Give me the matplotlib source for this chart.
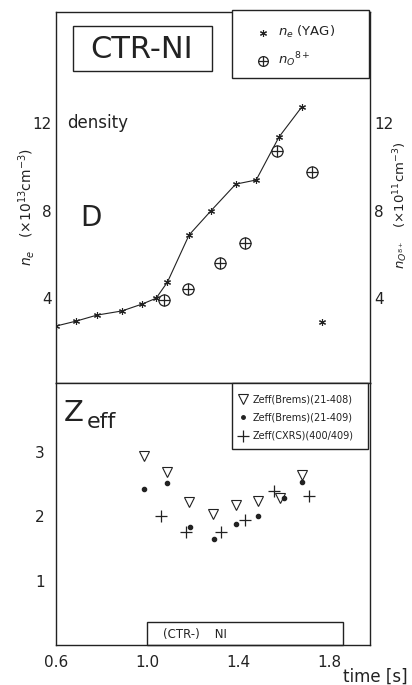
import numpy             as np
import matplotlib
matplotlib.use('Agg')
import matplotlib.pyplot as plt
from matplotlib.patches import Rectangle

W_PX, H_PX = 412, 685
DPI        = 100
INK        = '#222222'

############################
# Data
############################

# n_e (YAG), connected by the curve
neTime     = [0.60, 0.69, 0.78, 0.89, 0.98, 1.04, 1.09, 1.185, 1.28, 1.39, 1.48, 1.58, 1.68]
neValue    = [2.73, 2.96, 3.23, 3.42, 3.74, 4.00, 4.74, 6.89, 7.98, 9.21, 9.40, 11.36, 12.73]
# lone n_e point, not on the curve
neLoneTime  = [1.77]
neLoneValue = [2.91]

# n_O8+
oTime      = [1.075, 1.18, 1.32, 1.43, 1.57, 1.725]
oValue     = [3.92, 4.42, 5.61, 6.52, 10.72, 9.76]

# Zeff(Brems)(21-408)
zb8Time    = [0.987, 1.09, 1.185, 1.29, 1.39, 1.49, 1.585, 1.68]
zb8Value   = [2.93, 2.68, 2.22, 2.03, 2.17, 2.23, 2.28, 2.64]

# Zeff(Brems)(21-409)
zb9Time    = [0.987, 1.09, 1.19, 1.295, 1.39, 1.49, 1.60, 1.68]
zb9Value   = [2.42, 2.51, 1.83, 1.64, 1.88, 2.00, 2.28, 2.53]

# Zeff(CXRS)(400/409)
zcxTime    = [1.06, 1.17, 1.325, 1.43, 1.56, 1.71]
zcxValue   = [2.00, 1.75, 1.75, 1.94, 2.40, 2.32]

xTicks      = [0.6, 1.0, 1.4, 1.8]
xTickLabels = ['0.6', '1.0', '1.4', '1.8']
topTicks    = [4, 8, 12]
botTicks    = [1, 2, 3]

# helpers to place things in pixel units of the reference
def fx(px):
  return px / W_PX

def fy(py):
  return 1 - py / H_PX

plt.rcParams['font.family'] = ['DejaVu Sans']
plt.rcParams['mathtext.fontset'] = 'dejavusans'

fig = plt.figure(figsize = (W_PX / DPI, H_PX / DPI), dpi = DPI)

LEFT, RIGHT = 56, 370
axTop = fig.add_axes([fx(LEFT), fy(383), fx(RIGHT) - fx(LEFT), fy(12) - fy(383)])
axBot = fig.add_axes([fx(LEFT), fy(645), fx(RIGHT) - fx(LEFT), fy(383) - fy(645)])

XMIN = 0.6
XMAX = 0.6 + (RIGHT - LEFT) * 0.4 / 91

for ax in (axTop, axBot):
  ax.set_xlim(XMIN, XMAX)
  for s in ax.spines.values():
    s.set_linewidth(1.0)
    s.set_color(INK)
  ax.tick_params(length = 0, labelsize = 11, colors = INK)

############################
# Top panel: density
############################

axTop.set_ylim(0.13, 17.07)
axTop.plot(neTime, neValue, '-', color = INK, lw = 0.8,
           marker = (6, 2, 0), ms = 5, mew = 0.8)
axTop.plot(neLoneTime, neLoneValue, ls = 'none', color = INK,
           marker = (6, 2, 0), ms = 5, mew = 0.8)
# circled plus: open circle with a plus inside
axTop.plot(oTime, oValue, ls = 'none', marker = 'o', ms = 8, mfc = 'white',
           mec = INK, mew = 0.9)
axTop.plot(oTime, oValue, ls = 'none', marker = '+', ms = 8, mew = 0.9, color = INK)

axTop.set_xticks([])
axTop.set_yticks(topTicks)
axTop.set_yticklabels([str(t) for t in topTicks])
axTop.tick_params(axis = 'y', labelright = True, pad = 3)

fig.text(fx(27), fy(207), r'$n_e$   ($\times 10^{13}$cm$^{-3}$)', rotation = 90,
         ha = 'center', va = 'center', fontsize = 10, color = INK)
fig.text(fx(401), fy(205), r'$n_{O^{8+}}$   ($\times 10^{11}$cm$^{-3}$)', rotation = 90,
         ha = 'center', va = 'center', fontsize = 9.5, color = INK)

fig.text(fx(67), fy(123), 'density', ha = 'left', va = 'center', fontsize = 12, color = INK)
fig.text(fx(80), fy(218), 'D', ha = 'left', va = 'center', fontsize = 20, color = INK)

# CTR-NI box
fig.patches.append(Rectangle((fx(73), fy(71)), fx(212) - fx(73), fy(26) - fy(71),
                             transform = fig.transFigure, fill = False, lw = 1.0,
                             edgecolor = INK))
fig.text(fx(142), fy(49), 'CTR-NI', ha = 'center', va = 'center', fontsize = 22, color = INK)

# legend box, top panel
fig.patches.append(Rectangle((fx(232), fy(78)), fx(369) - fx(232), fy(10) - fy(78),
                             transform = fig.transFigure, facecolor = 'white', lw = 1.0,
                             edgecolor = INK, zorder = 3))
fig.lines.append(plt.Line2D([fx(263)], [fy(33)], transform = fig.transFigure, ls = 'none',
                            marker = (6, 2, 0), ms = 5, mew = 0.8, color = INK, zorder = 4))
fig.lines.append(plt.Line2D([fx(263)], [fy(61)], transform = fig.transFigure, ls = 'none',
                            marker = 'o', ms = 7, mfc = 'white', mec = INK, mew = 0.9, zorder = 4))
fig.lines.append(plt.Line2D([fx(263)], [fy(61)], transform = fig.transFigure, ls = 'none',
                            marker = '+', ms = 7, mew = 0.9, color = INK, zorder = 4))
fig.text(fx(278), fy(32), r'$n_e$ (YAG)', ha = 'left', va = 'center', fontsize = 9.5,
         color = INK, zorder = 5)
fig.text(fx(278), fy(60), r'$n_O{}^{8+}$', ha = 'left', va = 'center', fontsize = 9.5,
         color = INK, zorder = 5)

############################
# Bottom panel: Zeff
############################

axBot.set_ylim(0.0, 4.07)
axBot.plot(zb8Time, zb8Value, ls = 'none', marker = 'v', ms = 7, mfc = 'none',
           mec = INK, mew = 0.8)
axBot.plot(zb9Time, zb9Value, ls = 'none', marker = 'o', ms = 3, color = INK)
axBot.plot(zcxTime, zcxValue, ls = 'none', marker = '+', ms = 9, mew = 0.9, color = INK)

axBot.set_xticks(xTicks)
axBot.set_xticklabels(xTickLabels)
axBot.set_yticks(botTicks)
axBot.set_yticklabels([str(t) for t in botTicks])
axBot.tick_params(axis = 'x', pad = 7)
axBot.tick_params(axis = 'y', pad = 8)

# (CTR-) NI box sitting on the time axis
axBot.add_patch(Rectangle((1.0, 0.0), 0.86, 0.36, fill = False, lw = 1.0,
                          edgecolor = INK, clip_on = False))
axBot.text(1.07, 0.17, '(CTR-)    NI', ha = 'left', va = 'center', fontsize = 8.5, color = INK)

fig.text(fx(64), fy(413), 'Z', ha = 'left', va = 'center', fontsize = 21, color = INK)
fig.text(fx(87), fy(422), 'eff', ha = 'left', va = 'center', fontsize = 16, color = INK)

# legend box, bottom panel
fig.patches.append(Rectangle((fx(232), fy(449)), fx(368) - fx(232), fy(383) - fy(449),
                             transform = fig.transFigure, facecolor = 'white', lw = 1.0,
                             edgecolor = INK, zorder = 3))
legY = [399, 417, 436]
fig.lines.append(plt.Line2D([fx(243)], [fy(legY[0])], transform = fig.transFigure, ls = 'none',
                            marker = 'v', ms = 7, mfc = 'none', mec = INK, mew = 0.8, zorder = 4))
fig.lines.append(plt.Line2D([fx(243)], [fy(legY[1])], transform = fig.transFigure, ls = 'none',
                            marker = 'o', ms = 2.5, color = INK, zorder = 4))
fig.lines.append(plt.Line2D([fx(243)], [fy(legY[2])], transform = fig.transFigure, ls = 'none',
                            marker = '+', ms = 8, mew = 0.9, color = INK, zorder = 4))
legText = ['Zeff(Brems)(21-408)', 'Zeff(Brems)(21-409)', 'Zeff(CXRS)(400/409)']
for yy, tt in zip(legY, legText):
  fig.text(fx(253), fy(yy), tt, ha = 'left', va = 'center', fontsize = 7,
           color = INK, zorder = 5)

fig.text(fx(408), fy(677), 'time [s]', ha = 'right', va = 'center', fontsize = 12, color = INK)

fig.savefig('out.png', dpi = DPI)
